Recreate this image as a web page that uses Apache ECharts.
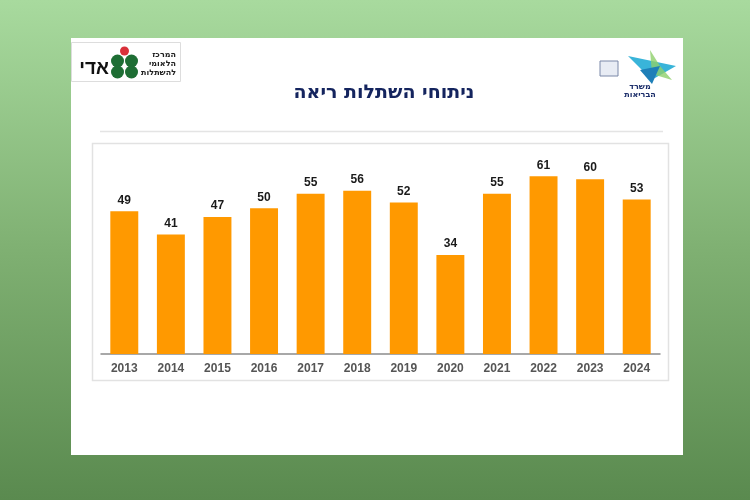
<!DOCTYPE html>
<html><head><meta charset="utf-8">
<script src="https://cdn.jsdelivr.net/npm/echarts@6/dist/echarts.min.js"></script>
<style>html,body{margin:0;padding:0;}#c{width:750px;height:500px;}</style>
</head><body><div id="c"></div>
<script>
const years = ['2013','2014','2015','2016','2017','2018','2019','2020','2021','2022','2023','2024'];
const transplants = [49,41,47,50,55,56,52,34,55,61,60,53];
const titleText = 'ניתוחי השתלות ריאה';

const chart = echarts.init(document.getElementById('c'));
chart.setOption({
  animation:false,
  backgroundColor:{type:'linear',x:0,y:0,x2:0,y2:1,colorStops:[{offset:0,color:'#a8da9e'},{offset:0.5,color:'#7fb072'},{offset:1,color:'#5a8a4f'}]},
  title:{text:titleText,left:379,top:79,textAlign:'center',textStyle:{fontFamily:'DejaVu Sans, Liberation Sans',fontSize:19,fontWeight:'bold',color:'#14245e'}},
  graphic:[
    {type:'rect',z:-10,shape:{x:71,y:38,width:612,height:417},style:{fill:'#ffffff'}},
    {type:'line',z:-9,shape:{x1:100,y1:131.5,x2:663,y2:131.5},style:{stroke:'#e4e4e4',lineWidth:1.5}},
    {type:'rect',z:-9,shape:{x:92.5,y:143.5,width:576,height:237},style:{fill:'#ffffff',stroke:'#e2e2e2',lineWidth:1.5}},
    // left logo
    {type:'rect',z:-9,shape:{x:71.5,y:42.5,width:109,height:39},style:{fill:'#ffffff',stroke:'#dddddd',lineWidth:1}},
    {type:'text',z:5,style:{text:'אדי',x:109,y:69,fontSize:19,fontWeight:'bold',fontFamily:'Liberation Sans, DejaVu Sans',fill:'#111111',textAlign:'right',textVerticalAlign:'middle'}},
    {type:'circle',z:5,shape:{cx:117.5,cy:61,r:6.5},style:{fill:'#1e6e34'}},
    {type:'circle',z:5,shape:{cx:131.5,cy:61,r:6.5},style:{fill:'#1e6e34'}},
    {type:'circle',z:5,shape:{cx:117.5,cy:72,r:6.5},style:{fill:'#1e6e34'}},
    {type:'circle',z:5,shape:{cx:131.5,cy:72,r:6.5},style:{fill:'#1e6e34'}},
    {type:'circle',z:5,shape:{cx:124.5,cy:51,r:4.5},style:{fill:'#d9303a'}},
    {type:'text',z:5,style:{text:'המרכז\nהלאומי\nלהשתלות',x:176,y:64,fontSize:8,lineHeight:9,fontWeight:'bold',fontFamily:'DejaVu Sans',fill:'#222222',textAlign:'right',textVerticalAlign:'middle'}},
    // right logo
    {type:'rect',z:5,shape:{x:600,y:61,width:18,height:15},style:{fill:'#e8ecf4',stroke:'#7a88a8',lineWidth:1}},
    {type:'polygon',z:5,shape:{points:[[628,56],[676,66],[655,78],[642,70]]},style:{fill:'#39b4d9'}},
    {type:'polygon',z:5,shape:{points:[[650,50],[660,66],[672,80],[652,74]]},style:{fill:'#8fcf6a',opacity:0.8}},
    {type:'polygon',z:5,shape:{points:[[640,70],[660,66],[652,84]]},style:{fill:'#1e7fb8'}},
    {type:'text',z:5,style:{text:'משרד\nהבריאות',x:640,y:91,fontSize:8,lineHeight:8,fontWeight:'bold',fontFamily:'DejaVu Sans',fill:'#1d2f6b',textAlign:'center',textVerticalAlign:'middle'}}
  ],
  grid:{left:101,right:90,top:150,bottom:146,containLabel:false},
  xAxis:{type:'category',data:years,
    axisLine:{lineStyle:{color:'#8c8c8c',width:1.5}},
    axisTick:{show:false},
    axisLabel:{margin:9,color:'#555555',fontSize:12,fontWeight:'bold',fontFamily:'Liberation Sans, Arial'}},
  yAxis:{type:'value',min:0,max:70,show:false,splitLine:{show:false}},
  series:[{type:'bar',data:transplants,barCategoryGap:'40%',
    itemStyle:{color:'#ff9900'},
    label:{show:true,position:'top',distance:5,color:'#1a1a1a',fontSize:12,fontWeight:'bold',fontFamily:'Liberation Sans, Arial'}}]
});
</script></body></html>
